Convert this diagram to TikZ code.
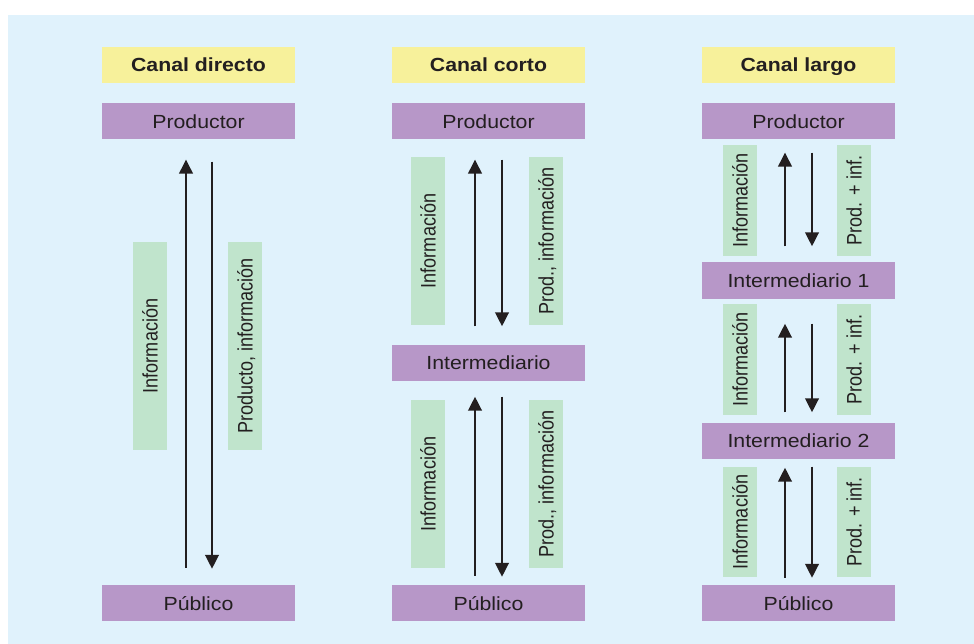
\documentclass[tikz,border=0pt]{standalone}
\usepackage{fontspec}
\setmainfont{Liberation Sans}
\newfontfamily\boxfont[FakeStretch=1.12]{Liberation Sans}
\newfontfamily\tagfont[FakeStretch=0.86]{Liberation Sans}
\usetikzlibrary{positioning}
\usetikzlibrary{arrows.meta}

\definecolor{bgblue}{HTML}{E0F2FC}
\definecolor{headyellow}{HTML}{F7F19B}
\definecolor{rolepurple}{HTML}{B797C8}
\definecolor{taggreen}{HTML}{C0E4CC}
\definecolor{inkdark}{HTML}{231F20}

\tikzset{
  head/.style={fill=headyellow,minimum width=193pt,minimum height=36pt,inner sep=0pt,
    text=inkdark,text height=14pt,text depth=0pt,font=\boxfont\bfseries\fontsize{19}{22}\selectfont},
  role/.style={fill=rolepurple,minimum width=193pt,minimum height=36pt,inner sep=0pt,
    text=inkdark,text height=14pt,text depth=0pt,font=\boxfont\fontsize{19}{22}\selectfont},
  tag/.style={fill=taggreen,rotate=90,minimum height=34pt,inner sep=0pt,
    text=inkdark,text height=15pt,text depth=0pt,font=\tagfont\fontsize{21}{24}\selectfont},
  flow/.style={draw=inkdark,line width=2.5pt,-{Triangle[width=13.5pt,length=14pt]}}
}

\begin{document}
\begin{tikzpicture}[x=1pt,y=-1pt]
    \useasboundingbox (0,0) rectangle (974,644);
    \fill[bgblue] (8,15) rectangle (974,644);

    % Canal directo
    \node[head] (H1) at (198.5,65) {Canal directo};
    \node[role] (P1) [below=20pt of H1] {Productor};
    \node[role] (U1) at (198.5,603) {Público};
    \node[tag,minimum width=208pt] (T1a) at (150,346) {Información};
    \node[tag,minimum width=208pt] (T1b) at (245,346) {Producto, información};
    \draw[flow,shorten <=17pt,shorten >=20pt] ([xshift=-12.5pt]U1.north) -- ([xshift=-12.5pt]P1.south);
    \draw[flow,shorten <=22pt,shorten >=16pt] ([xshift=13.5pt]P1.south) -- ([xshift=13.5pt]U1.north);

    % Canal corto
    \node[head] (H2) at (488.5,65) {Canal corto};
    \node[role] (P2) [below=20pt of H2] {Productor};
    \node[role] (I2) at (488.5,362.5) {Intermediario};
    \node[role] (U2) at (488.5,603) {Público};
    \node[tag,minimum width=168pt] (T2a) at (428,241) {Información};
    \node[tag,minimum width=168pt] (T2b) at (546,241) {Prod., información};
    \node[tag,minimum width=168pt] (T2c) at (428,484) {Información};
    \node[tag,minimum width=168pt] (T2d) at (546,484) {Prod., información};
    \draw[flow,shorten <=18pt,shorten >=20pt] ([xshift=-13.5pt]I2.north) -- ([xshift=-13.5pt]P2.south);
    \draw[flow,shorten <=20pt,shorten >=18pt] ([xshift=13.5pt]P2.south) -- ([xshift=13.5pt]I2.north);
    \draw[flow,shorten <=9pt,shorten >=16pt] ([xshift=-13.5pt]U2.north) -- ([xshift=-13.5pt]I2.south);
    \draw[flow,shorten <=16pt,shorten >=8pt] ([xshift=13.5pt]I2.south) -- ([xshift=13.5pt]U2.north);

    % Canal largo
    \node[head] (H3) at (798.5,65) {Canal largo};
    \node[role] (P3) [below=20pt of H3] {Productor};
    \node[role] (M31) at (798.5,280.5) {Intermediario 1};
    \node[role] (M32) at (798.5,440.5) {Intermediario 2};
    \node[role] (U3) at (798.5,603) {Público};
    \node[tag,minimum width=111pt] (T3a) at (740,200.5) {Información};
    \node[tag,minimum width=111pt] (T3b) at (854,200.5) {Prod. + inf.};
    \node[tag,minimum width=111pt] (T3c) at (740,359.5) {Información};
    \node[tag,minimum width=111pt] (T3d) at (854,359.5) {Prod. + inf.};
    \node[tag,minimum width=110pt] (T3e) at (740,522) {Información};
    \node[tag,minimum width=110pt] (T3f) at (854,522) {Prod. + inf.};
    \draw[flow,shorten <=16pt,shorten >=13pt] ([xshift=-13.5pt]M31.north) -- ([xshift=-13.5pt]P3.south);
    \draw[flow,shorten <=13pt,shorten >=16pt] ([xshift=13.5pt]P3.south) -- ([xshift=13.5pt]M31.north);
    \draw[flow,shorten <=10pt,shorten >=25pt] ([xshift=-13.5pt]M32.north) -- ([xshift=-13.5pt]M31.south);
    \draw[flow,shorten <=25pt,shorten >=10pt] ([xshift=13.5pt]M31.south) -- ([xshift=13.5pt]M32.north);
    \draw[flow,shorten <=7pt,shorten >=9pt] ([xshift=-13.5pt]U3.north) -- ([xshift=-13.5pt]M32.south);
    \draw[flow,shorten <=8pt,shorten >=7pt] ([xshift=13.5pt]M32.south) -- ([xshift=13.5pt]U3.north);
\end{tikzpicture}
\end{document}
